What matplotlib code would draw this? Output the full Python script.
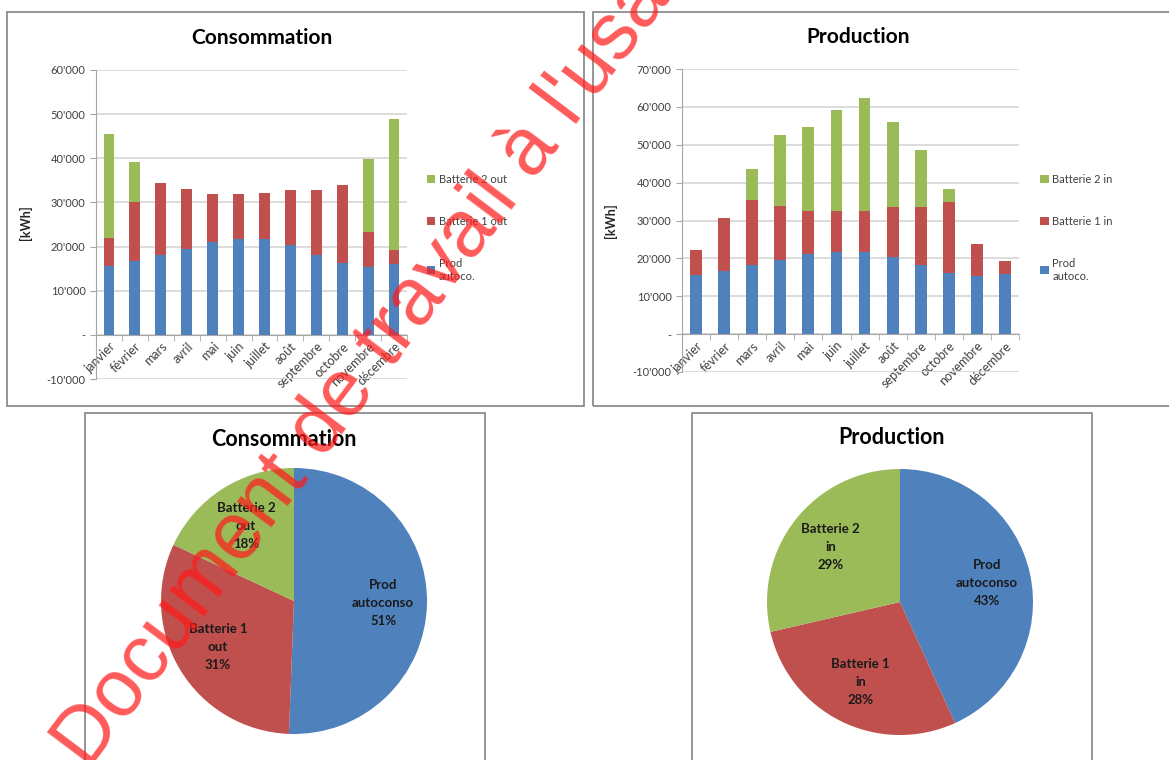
import matplotlib
matplotlib.use("Agg")
import matplotlib.pyplot as plt
from matplotlib.patches import Rectangle
from matplotlib.ticker import FuncFormatter
import numpy as np

plt.rcParams.update({
    "font.family": ["Lato", "DejaVu Sans"],
    "font.size": 8,
})

# ── Data (kWh per month) ──
MOIS = ["janvier", "février", "mars", "avril", "mai", "juin", "juillet",
        "août", "septembre", "octobre", "novembre", "décembre"]
PROD_AUTOCO = [15600, 16700, 18200, 19500, 21100, 21800, 21800, 20400, 18200, 16200, 15300, 16000]
BAT1_OUT = [6400, 13300, 16300, 13500, 10800, 10100, 10300, 12400, 14600, 17800, 8000, 3200]
BAT2_OUT = [23400, 9200, 0, 0, 0, 0, 0, 0, 0, 0, 16500, 29700]
BAT1_IN = [6700, 14000, 17200, 14300, 11400, 10700, 10700, 13100, 15400, 18800, 8400, 3300]
BAT2_IN = [0, 0, 8100, 18700, 22200, 26700, 29800, 22500, 14900, 3300, 0, 0]

LEG_CONS = ["Prod\nautoco.", "Batterie 1 out", "Batterie 2 out"]
LEG_PROD = ["Prod\nautoco.", "Batterie 1 in", "Batterie 2 in"]
PIE_CONS = ["Prod\nautoconso", "Batterie 1\nout", "Batterie 2\nout"]
PIE_PROD = ["Prod\nautoconso", "Batterie 1\nin", "Batterie 2\nin"]

C_BLUE = "#4f81bd"
C_RED = "#c0504d"
C_GREEN = "#9bbb59"
COLORS = [C_BLUE, C_RED, C_GREEN]
C_AXIS = "#a6a6a6"
C_TEXT = "#404040"

W, H = 1169, 760
fig = plt.figure(figsize=(W / 100, H / 100), dpi=100, facecolor="white")


def px_axes(x0, y0, x1, y1):
    # pixel box with origin at top-left of the image
    return fig.add_axes([x0 / W, 1 - y1 / H, (x1 - x0) / W, (y1 - y0) / H])


def frame(x0, y0, x1, y1):
    fig.patches.append(Rectangle((x0 / W, 1 - y1 / H), (x1 - x0) / W, (y1 - y0) / H,
                                 transform=fig.transFigure, fill=False,
                                 ec="#8c8c8c", lw=1.3))


def fmt(v, pos=None):
    if v == 0:
        return "-"
    return f"{v:,.0f}".replace(",", "'")


def stacked(ax, series, labels, ymax, leg_anchor, ylab_xy):
    x = np.arange(len(MOIS))
    bottom = np.zeros(len(MOIS))
    handles = []
    for vals, col, lab in zip(series, COLORS, labels):
        h = ax.bar(x, vals, 0.42, bottom=bottom, color=col, label=lab, zorder=3)
        bottom += np.array(vals)
        handles.append(h)
    ax.set_xlim(-0.5, 11.5)
    ax.set_ylim(-10000, ymax)
    ax.set_yticks(np.arange(-10000, ymax + 1, 10000))
    ax.yaxis.set_major_formatter(FuncFormatter(fmt))
    ax.grid(axis="y", color="#d9d9d9", lw=1.3, zorder=0)
    ax.set_axisbelow(True)
    for s in ["top", "right"]:
        ax.spines[s].set_visible(False)
    ax.spines["bottom"].set_position(("data", 0))
    ax.spines["bottom"].set_color(C_AXIS)
    ax.spines["left"].set_color(C_AXIS)
    ax.set_xticks(x)
    ax.set_xticklabels(MOIS, rotation=45, ha="right", va="top",
                       rotation_mode="anchor", color=C_TEXT)
    ax.tick_params(axis="x", which="major", length=0, pad=4, labelsize=9)
    ax.set_xticks(np.arange(-0.5, 12, 1), minor=True)
    ax.tick_params(axis="x", which="minor", length=4, color=C_AXIS)
    ax.tick_params(axis="y", length=4, color=C_AXIS, labelsize=8, labelcolor=C_TEXT)
    ax.set_ylabel("[kWh]", fontweight="bold", fontsize=9, color="#262626")
    ax.yaxis.set_label_coords(*ylab_xy)
    ax.legend(handles[::-1], labels[::-1], loc="upper left", bbox_to_anchor=leg_anchor,
              frameon=False, borderaxespad=0, borderpad=0, labelspacing=2.8,
              handlelength=0.75, handleheight=0.75, handletextpad=0.35,
              fontsize=8, labelcolor=C_TEXT)


# ── Panel frames ──
frame(7, 12, 584, 406)
frame(593, 12, 1180, 406)
frame(85, 413, 485, 770)
frame(692, 413, 1092, 770)

# ── Bar chart: Consommation ──
ax1 = px_axes(96, 70, 407, 379)
stacked(ax1, [PROD_AUTOCO, BAT1_OUT, BAT2_OUT], LEG_CONS, 60000,
        (1.063, 0.665), (-0.206, 0.505))
fig.text(262 / W, 1 - 38 / H, "Consommation", ha="center", va="center",
         fontsize=15, fontweight="bold")

# ── Bar chart: Production ──
ax2 = px_axes(682, 69, 1019, 372)
stacked(ax2, [PROD_AUTOCO, BAT1_IN, BAT2_IN], LEG_PROD, 70000,
        (1.063, 0.655), (-0.193, 0.50))
fig.text(858 / W, 1 - 37 / H, "Production", ha="center", va="center",
         fontsize=15, fontweight="bold")


# ── Pies (yearly totals) ──
def pie(cx, cy, r, vals, names, title, tx, ty):
    ax = px_axes(cx - r, cy - r, cx + r, cy + r)
    total = sum(vals)
    labels = [f"{n}\n{v / total * 100:.0f}%" for n, v in zip(names, vals)]
    ax.pie(vals, colors=COLORS, startangle=90, counterclock=False, labels=labels,
           labeldistance=0.67, radius=1,
           textprops=dict(ha="center", va="center", fontweight="bold",
                          fontsize=9.5, color="#1a1a1a", linespacing=1.6))
    ax.set_xlim(-1, 1)
    ax.set_ylim(-1, 1)
    ax.set_aspect("equal")
    fig.text(tx / W, 1 - ty / H, title, ha="center", va="center",
             fontsize=15.5, fontweight="bold")


pie(294, 601, 133, [sum(PROD_AUTOCO), sum(BAT1_OUT), sum(BAT2_OUT)], PIE_CONS,
    "Consommation", 284, 439)
pie(900, 602, 133, [sum(PROD_AUTOCO), sum(BAT1_IN), sum(BAT2_IN)], PIE_PROD,
    "Production", 892, 438)

# ── Watermark ──
fig.text(390 / W, 1 - 335 / H, "Document de travail à l'usage", rotation=53,
         rotation_mode="anchor", ha="center", va="center", fontsize=58,
         color="#ff1a1a", alpha=0.72, family="Liberation Sans", zorder=100)

fig.savefig("out.png", dpi=100, facecolor="white")
